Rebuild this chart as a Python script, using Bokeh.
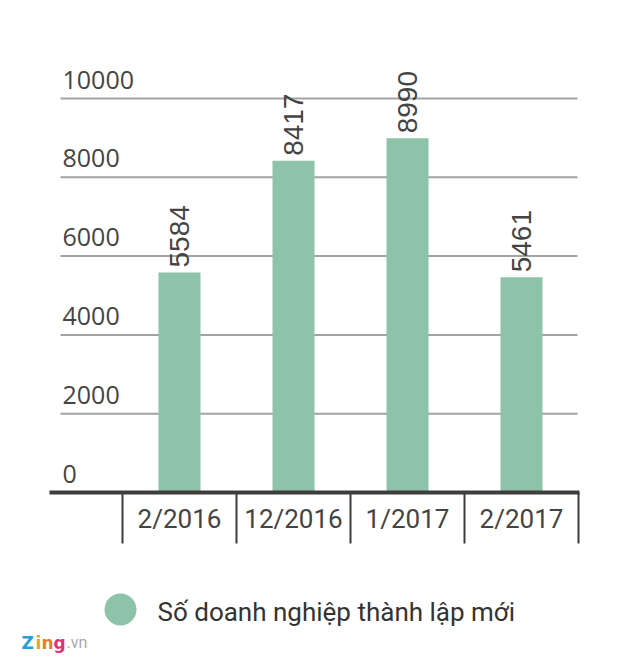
import math
from bokeh.plotting import figure
from bokeh.models import Range1d, ColumnDataSource
from bokeh.core.properties import value
from bokeh.embed import file_html
from bokeh.resources import INLINE

categories = ["2/2016", "12/2016", "1/2017", "2/2017"]
counts = [5584, 8417, 8990, 5461]
y_ticks = [0, 2000, 4000, 6000, 8000, 10000]
y_tick_labels = ["0", "2000", "4000", "6000", "8000", "10000"]
legend_label = "Số doanh nghiệp thành lập mới"

BAR = "#8dc3a8"
TXT = "#444444"

# canvas 624x656 ; frame = whole canvas (canvas coords == picture coords)
PX = 394.0 / 10000.0          # pixels per data unit
Y0 = 492.0                    # picture y of value 0
CAT_W = 114.0
X0 = 122.0                    # picture x of first category boundary


def dx(px):
    return (px - X0) / CAT_W


def dy(py):
    return (Y0 - py) / PX


p = figure(width=624, height=656, output_backend="svg", toolbar_location=None,
           x_range=Range1d(dx(0), dx(624)), y_range=Range1d(dy(656), dy(0)),
           min_border=0, min_border_left=0, min_border_right=0,
           min_border_top=0, min_border_bottom=0)
p.axis.visible = False
p.grid.visible = False
p.outline_line_color = None
p.background_fill_color = "white"
p.border_fill_color = "white"

n = len(categories)
gx0, gx1 = dx(60), dx(577)

# gridlines
grid_vals = [v for v in y_ticks if v > 0]
p.segment(x0=[gx0] * len(grid_vals), x1=[gx1] * len(grid_vals),
          y0=grid_vals, y1=grid_vals, line_color="#a3a3a3", line_width=2)

# bars
xs = [i + 0.5 for i in range(n)]
src = ColumnDataSource(dict(x=xs, top=counts, lab=[str(c) for c in counts],
                            laby=[c + 5 / PX for c in counts],
                            cat=categories, cy=[dy(518)] * n))
p.vbar(x="x", top="top", bottom=0, width=42 / CAT_W, source=src, color=BAR, line_color=None)

# axis line
p.segment(x0=[dx(49)], x1=[dx(579)], y0=[0], y1=[0], line_color="#3d3d3d", line_width=4)

# separators
sep_x = list(range(n + 1))
p.segment(x0=sep_x, x1=sep_x, y0=[0] * len(sep_x), y1=[dy(543)] * len(sep_x),
          line_color="#3d3d3d", line_width=2)

# value labels
p.text(x="x", y="laby", text="lab", source=src, angle=math.pi / 2,
       text_align="left", text_baseline="middle",
       text_font=value("Liberation Sans"), text_font_size="28px", text_color=TXT)

# y tick labels
p.text(x=[dx(62)] * len(y_ticks), y=[v + 19 / PX for v in y_ticks], text=y_tick_labels,
       text_align="left", text_baseline="middle",
       text_font=value("Open Sans"), text_font_size="25px", text_color=TXT)

# category labels
p.text(x="x", y="cy", text="cat", source=src,
       text_align="center", text_baseline="middle",
       text_font=value("Roboto"), text_font_size="26px", text_color=TXT)

# legend
p.scatter(x=[dx(120)], y=[dy(609)], size=32, color=BAR, line_color=None)
p.text(x=[dx(157)], y=[dy(611)], text=[legend_label],
       text_align="left", text_baseline="middle",
       text_font=value("Roboto"), text_font_size="26px", text_color="#333333")

# logo
letters = ["Z", "i", "n", "g"]
colors = ["#2a9fd8", "#f0a020", "#f07a20", "#e0307a"]
lx = [21, 35, 41, 53]
p.text(x=[dx(v) for v in lx], y=[dy(642)] * 4, text=letters,
       text_color=colors, text_align="left", text_baseline="middle",
       text_font=value("DejaVu Sans"), text_font_style="bold", text_font_size="17px")
p.text(x=[dx(66)], y=[dy(642)], text=[".vn"], text_color="#aaaaaa",
       text_align="left", text_baseline="middle",
       text_font=value("Roboto"), text_font_size="16px")

open("out.html", "w").write(file_html(p, INLINE))
